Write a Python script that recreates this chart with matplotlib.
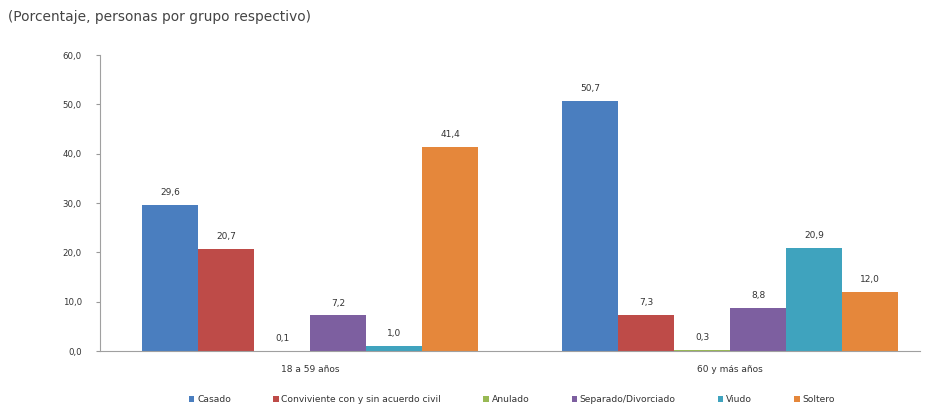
import matplotlib
matplotlib.use("Agg")
import matplotlib.pyplot as plt
import numpy as np

categories = ["18 a 59 años", "60 y más años"]
series = ["Casado", "Conviviente con y sin acuerdo civil", "Anulado",
          "Separado/Divorciado", "Viudo", "Soltero"]
casado = [29.6, 50.7]
conviviente = [20.7, 7.3]
anulado = [0.1, 0.3]
separado = [7.2, 8.8]
viudo = [1.0, 20.9]
soltero = [41.4, 12.0]
values = [casado, conviviente, anulado, separado, viudo, soltero]
colors = ["#4A7EBF", "#BE4B48", "#98B954", "#7D5FA0", "#3FA3BE", "#E5873B"]
yticks = [0, 10, 20, 30, 40, 50, 60]

fig = plt.figure(figsize=(9.3, 4.08), dpi=100)
ax = fig.add_axes([100/930, 57/408, 820/930, 296/408])

x = np.arange(len(categories))
n = len(series)
w = 0.8 / n
handles = []
for i, (name, vals, c) in enumerate(zip(series, values, colors)):
    pos = x - 0.4 + w * (i + 0.5)
    b = ax.bar(pos, vals, width=w, color=c, label=name, linewidth=0)
    handles.append(b)
    for p, v in zip(pos, vals):
        ax.text(p, v + 1.6, f"{v:.1f}".replace(".", ","), ha="center", va="bottom",
                fontsize=6.5, color="#333333")

ax.set_xlim(-0.5, 1.452)
ax.set_ylim(0, 60)
ax.set_yticks(yticks)
ax.set_yticklabels([f"{t:.1f}".replace(".", ",") for t in yticks], fontsize=6.2, color="#333333")
ax.set_xticks(x)
ax.set_xticklabels(categories, fontsize=6.5, color="#333333")
ax.tick_params(axis="x", length=0, pad=10)
ax.tick_params(axis="y", length=3, color="#999999", pad=10)
for s in ["top", "right"]:
    ax.spines[s].set_visible(False)
for s in ["left", "bottom"]:
    ax.spines[s].set_color("#A0A0A0")
    ax.spines[s].set_linewidth(0.8)

fig.text(8/930, 1 - 17/408, "(Porcentaje, personas por grupo respectivo)", fontsize=9.9,
         color="#444444", va="center", ha="left")

leg = fig.legend(handles=handles, labels=series, loc="center", ncol=6,
                 bbox_to_anchor=(512/930, 1 - 400/408), frameon=False, fontsize=6.6,
                 handlelength=0.6, handleheight=0.6, handletextpad=0.3,
                 columnspacing=4.6)
for t in leg.get_texts():
    t.set_color("#333333")

fig.savefig("out.png", dpi=100)
